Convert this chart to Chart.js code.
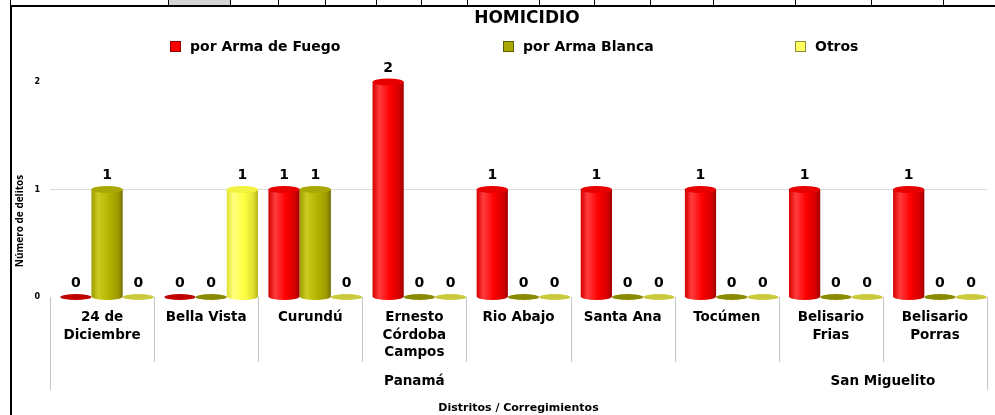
<!DOCTYPE html>
<html>
<head>
<meta charset="utf-8">
<script src="https://cdn.jsdelivr.net/npm/chart.js@4.4.1/dist/chart.umd.min.js"></script>
<style>
html, body { margin: 0; padding: 0; background: #fff; overflow: hidden; width: 995px; height: 415px; }
#sheet { position: absolute; left: 0; top: 0; width: 995px; height: 5px; overflow: hidden; }
.cell { position: absolute; top: 0; height: 5px; border-left: 1px solid #000; }
#frame { position: absolute; left: 10px; top: 5px; width: 1000px; height: 420px; border-left: 2px solid #000; border-top: 2px solid #000; }
#wrap { position: absolute; left: 12px; top: 7px; }
</style>
</head>
<body>
<div id="sheet"></div>
<div id="frame"></div>
<div id="wrap"><canvas id="chart" width="1030" height="408"></canvas></div>
<script>
// Datos del grafico
var categorias = [['24 de', 'Diciembre'], ['Bella Vista'], ['Curundú'], ['Ernesto', 'Córdoba', 'Campos'],
                  ['Rio Abajo'], ['Santa Ana'], ['Tocúmen'], ['Belisario', 'Frias'], ['Belisario', 'Porras']];
var armaFuego = [0, 0, 1, 2, 1, 1, 1, 1, 1];
var armaBlanca = [1, 0, 1, 0, 0, 0, 0, 0, 0];
var otros = [0, 1, 0, 0, 0, 0, 0, 0, 0];
var distritos = ['Panamá', 'San Miguelito'];
var distritoDesde = [0, 7];
var distritoHasta = [6, 8];
var nombresSeries = ['por Arma de Fuego', 'por Arma Blanca', 'Otros'];
var titulo = 'HOMICIDIO';

// Colores de los cilindros
var estilos = [
    {edge: '#d40000', dark: '#a00000', mid: '#ff0000', light: '#ff3c3c', top: '#e80000', flat: '#c00000', box: '#ff0000'},
    {edge: '#9c9c00', dark: '#707000', mid: '#b4b400', light: '#cccc20', top: '#a8a800', flat: '#8a8a00', box: '#a8a800'},
    {edge: '#e0e030', dark: '#b4b420', mid: '#ffff40', light: '#ffff80', top: '#f2f240', flat: '#caca3c', box: '#ffff60'}
];

var fuente = "'DejaVu Sans', Verdana, sans-serif";

// Trozo de la hoja de calculo que asoma arriba
var cortes = [10, 168, 230, 278, 325, 376, 421, 467, 539, 594, 650, 713, 795, 871, 943];
var sheet = document.getElementById('sheet');
cortes.forEach(function(x, i) {
    var d = document.createElement('div');
    d.className = 'cell';
    d.style.left = x + 'px';
    d.style.width = ((i < cortes.length - 1 ? cortes[i + 1] : 995) - x - 1) + 'px';
    if (x === 168) d.style.background = '#d4d4d4';
    sheet.appendChild(d);
});

// Dibuja las barras como cilindros en 3D
var cilindros = {
    id: 'cilindros',
    afterDatasetsDraw: function(chart) {
        var ctx = chart.ctx;
        chart.data.datasets.forEach(function(ds, i) {
            var s = estilos[i];
            chart.getDatasetMeta(i).data.forEach(function(bar, j) {
                var x = bar.x + 5, w = bar.width;
                var left = x - w / 2, right = x + w / 2, rx = w / 2;
                var top = bar.y, base = bar.base;
                ctx.save();
                if (base - top < 1) {
                    ctx.fillStyle = s.flat;
                    ctx.beginPath();
                    ctx.ellipse(x, base, rx, 3, 0, 0, Math.PI * 2);
                    ctx.fill();
                } else {
                    var g = ctx.createLinearGradient(left, 0, right, 0);
                    g.addColorStop(0, s.edge);
                    g.addColorStop(0.22, s.light);
                    g.addColorStop(0.55, s.mid);
                    g.addColorStop(0.85, s.edge);
                    g.addColorStop(1, s.dark);
                    ctx.fillStyle = g;
                    ctx.beginPath();
                    ctx.moveTo(left, top);
                    ctx.lineTo(left, base);
                    ctx.ellipse(x, base, rx, 3.5, 0, Math.PI, 0, true);
                    ctx.lineTo(right, top);
                    ctx.closePath();
                    ctx.fill();
                    ctx.fillStyle = s.top;
                    ctx.beginPath();
                    ctx.ellipse(x, top, rx, 3.5, 0, 0, Math.PI * 2);
                    ctx.fill();
                }
                // etiqueta de valor
                ctx.fillStyle = '#000';
                ctx.font = 'bold 14px ' + fuente;
                ctx.textAlign = 'center';
                ctx.textBaseline = 'middle';
                ctx.fillText(String(ds.data[j]), x, top - 14);
                ctx.restore();
            });
        });
    }
};

// Titulo, leyenda, agrupacion por distritos y titulo del eje Y
var extras = {
    id: 'extras',
    afterDraw: function(chart) {
        var ctx = chart.ctx;
        var xs = chart.scales.x;
        var area = chart.chartArea;
        ctx.save();

        // titulo centrado en el marco completo
        ctx.fillStyle = '#000';
        ctx.font = 'bold 17px ' + fuente;
        ctx.textAlign = 'center';
        ctx.textBaseline = 'middle';
        ctx.fillText(titulo, chart.width / 2, 12);

        // leyenda
        var legX = [158, 491, 783];
        ctx.font = 'bold 14px ' + fuente;
        ctx.textAlign = 'left';
        nombresSeries.forEach(function(n, i) {
            ctx.fillStyle = estilos[i].box;
            ctx.fillRect(legX[i], 34, 11, 11);
            ctx.strokeStyle = 'rgba(0,0,0,0.45)';
            ctx.lineWidth = 1;
            ctx.strokeRect(legX[i] + 0.5, 34.5, 10, 10);
            ctx.fillStyle = '#000';
            ctx.fillText(n, legX[i] + 20, 40);
        });

        // separadores de categorias
        var paso = xs.width / categorias.length;
        ctx.strokeStyle = '#c4c4c4';
        ctx.lineWidth = 1;
        for (var k = 0; k <= categorias.length; k++) {
            var xb = Math.round(xs.left + k * paso) + 0.5;
            var fin = (k === 0 || k === categorias.length) ? 383 : 355;
            ctx.beginPath();
            ctx.moveTo(xb, area.bottom);
            ctx.lineTo(xb, fin);
            ctx.stroke();
        }

        // nombres de distritos
        ctx.fillStyle = '#000';
        ctx.font = 'bold 13.5px ' + fuente;
        ctx.textAlign = 'center';
        distritos.forEach(function(d, i) {
            var cx = (xs.getPixelForValue(distritoDesde[i]) + xs.getPixelForValue(distritoHasta[i])) / 2;
            ctx.fillText(d, cx, 374);
        });

        // titulo eje Y
        ctx.translate(8, 214);
        ctx.rotate(-Math.PI / 2);
        ctx.font = "bold 10px 'Open Sans', sans-serif";
        ctx.fillText('Número de delitos', 0, 0);
        ctx.restore();
    }
};

var datasets = [armaFuego, armaBlanca, otros].map(function(d, i) {
    return {
        label: nombresSeries[i],
        data: d,
        backgroundColor: 'rgba(0,0,0,0)',
        borderWidth: 0,
        categoryPercentage: 0.9,
        barPercentage: 1.0
    };
});

new Chart(document.getElementById('chart'), {
    type: 'bar',
    data: { labels: categorias, datasets: datasets },
    options: {
        responsive: false,
        animation: false,
        events: [],
        layout: { padding: { left: 0, right: 55, top: 75, bottom: 0 } },
        plugins: {
            legend: { display: false },
            tooltip: { enabled: false },
            title: { display: false }
        },
        scales: {
            x: {
                grid: { display: false, drawTicks: false },
                border: { display: false },
                ticks: {
                    color: '#000',
                    font: { family: fuente, size: 13.5, weight: 'bold', lineHeight: 1.3 },
                    padding: 12,
                    maxRotation: 0,
                    autoSkip: false
                },
                title: {
                    display: true,
                    text: 'Distritos / Corregimientos',
                    color: '#000',
                    font: { family: fuente, size: 11, weight: 'bold', lineHeight: 1.2 },
                    padding: { top: 0, bottom: 0 }
                },
                afterFit: function(scale) { scale.height = 118; }
            },
            y: {
                min: 0,
                max: 2,
                grid: {
                    drawTicks: false,
                    color: function(c) { return c.tick && c.tick.value === 1 ? '#d9d9d9' : 'rgba(0,0,0,0)'; }
                },
                border: { display: false },
                ticks: {
                    stepSize: 1,
                    color: '#000',
                    font: { family: fuente, size: 8, weight: 'bold' },
                    padding: 10
                },
                afterFit: function(scale) { scale.width = 38; }
            }
        }
    },
    plugins: [cilindros, extras]
});
</script>
</body>
</html>
